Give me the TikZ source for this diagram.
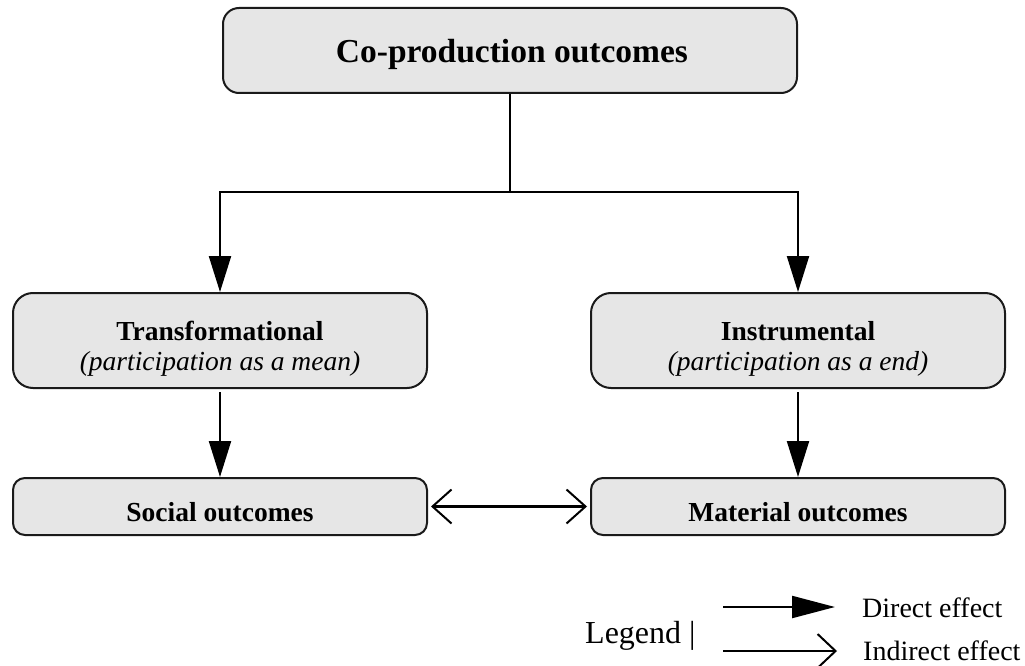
\documentclass[tikz,border=0pt]{standalone}
\usepackage{fontspec}
\setmainfont{Liberation Serif}
\usetikzlibrary{arrows.meta}
\definecolor{boxgray}{HTML}{E6E6E6}
\definecolor{edge}{HTML}{1A1A1A}
\begin{document}
\begin{tikzpicture}[x=1pt,y=-1pt]
\tikzset{
  box/.style={draw=edge, line width=2pt, fill=boxgray, inner sep=0pt},
  midbox/.style={box, rounded corners=20pt, minimum width=414pt, minimum height=95pt},
  lowbox/.style={box, rounded corners=12pt, minimum width=414pt, minimum height=57pt},
  txt/.style={inner sep=0pt, anchor=base},
  bf/.style={font=\fontsize{27.5}{30}\selectfont\bfseries},
  itf/.style={font=\fontsize{27.5}{30}\selectfont\itshape},
  lg/.style={font=\fontsize{28}{30}\selectfont},
  conn/.style={line width=2.2pt, draw=black},
  direct/.style={conn, -{Triangle[length=36pt,width=22pt]}},
  directlg/.style={conn, -{Triangle[length=43pt,width=22pt]}},
  indirect/.style={conn, -{Straight Barb[length=18pt,width=34pt,line width=2pt]}},
  both/.style={conn, {Straight Barb[length=19pt,width=34pt,line width=2pt]}-{Straight Barb[length=19pt,width=34pt,line width=2pt]}},
}
\useasboundingbox (0,0) rectangle (1025,666);

% boxes
\node[box, rounded corners=16pt, minimum width=574pt, minimum height=85pt] (top) at (510,50.5) {};
\node[midbox] (tr) at (220,340.5) {};
\node[midbox] (in) at (798,340.5) {};
\node[lowbox] (so) at (220,506.5) {};
\node[lowbox] (ma) at (798,506.5) {};

% box texts
\node[txt, font=\fontsize{33.5}{36}\selectfont\bfseries] (topA) at (512,63) {Co-production outcomes};
\node[txt, bf]  (trA) at (220,340) {Transformational};
\node[txt, itf] (trB) at (220,370) {(participation as a mean)};
\node[txt, bf]  (inA) at (798,340) {Instrumental};
\node[txt, itf] (inB) at (798,370) {(participation as a end)};
\node[txt, bf]  (soA) at (220,521) {Social outcomes};
\node[txt, bf]  (maA) at (798,521) {Material outcomes};

% connectors
\coordinate (jn) at (510,192);
\draw[conn] (top.south) -- (jn);
\draw[direct] (jn) -| (tr.north);
\draw[direct] (jn) -| (in.north);
\draw[direct, shorten <=3pt] (tr.south) -- (so.north);
\draw[direct, shorten <=3pt] (in.south) -- (ma.north);
\draw[both, shorten <=3pt, shorten >=3pt] (so.east) -- (ma.west);

% legend
\node[inner sep=0pt, anchor=base west, font=\fontsize{32}{34}\selectfont] (lgd) at (585,643) {Legend |};
\coordinate (d1) at (723,607);
\coordinate (d2) at (835,607);
\coordinate (i1) at (723,651);
\coordinate (i2) at (837,651);
\draw[directlg] (d1) -- (d2);
\draw[indirect] (i1) -- (i2);
\node[inner sep=0pt, anchor=base west, lg] (dl) at (862,617) {Direct effect};
\node[inner sep=0pt, anchor=base west, lg] (il) at (863,660) {Indirect effect};
\end{tikzpicture}
\end{document}
